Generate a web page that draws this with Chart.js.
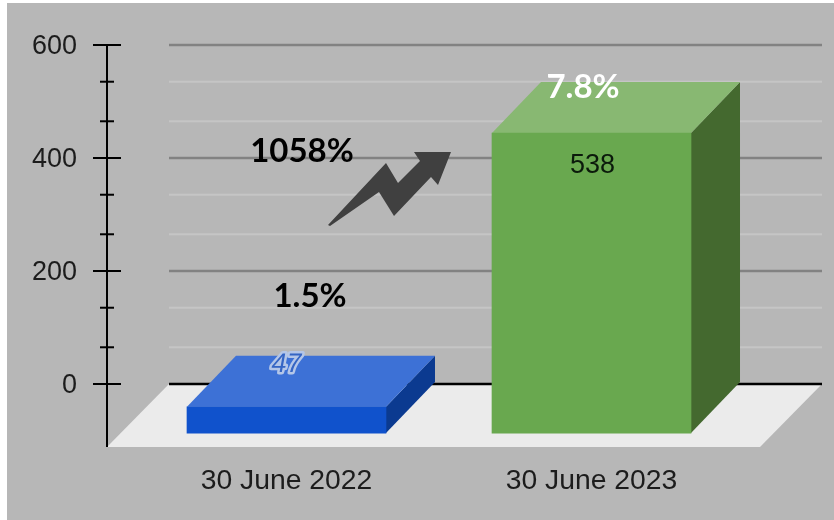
<!DOCTYPE html>
<html>
<head>
<meta charset="utf-8">
<style>
  html, body { margin: 0; padding: 0; background: #fff; }
  #wrap { width: 834px; height: 520px; }
</style>
<script src="https://cdn.jsdelivr.net/npm/chart.js@4/dist/chart.umd.min.js"></script>
</head>
<body>
<div id="wrap"><canvas id="growthChart" width="834" height="520"></canvas></div>
<script>
const categories = ['30 June 2022', '30 June 2023'];
const values = [47, 538];
const shares = ['1.5%', '7.8%'];
const growthLabel = '1058%';
const majorTicks = [0, 200, 400, 600];
const minorTicks = [65, 135, 265, 335, 465, 535];

const frontColors = ['#1052cc', '#69a84f'];
const topColors = ['#3d71d6', '#88b872'];
const sideColors = ['#0b3a90', '#44692f'];

const depthX = 49;
const depthY = 51;
const floorSkew = 62;

const sans = '"Liberation Sans", Arial, sans-serif';
const boldFont = 'bold 33px Lato, "Open Sans", sans-serif';

function polygon(ctx, pts, color) {
  ctx.fillStyle = color;
  ctx.beginPath();
  pts.forEach((p, i) => i ? ctx.lineTo(p[0], p[1]) : ctx.moveTo(p[0], p[1]));
  ctx.closePath();
  ctx.fill();
}

function hLine(ctx, x1, x2, y, color, width) {
  ctx.strokeStyle = color;
  ctx.lineWidth = width;
  ctx.beginPath();
  ctx.moveTo(x1, y);
  ctx.lineTo(x2, y);
  ctx.stroke();
}

// back wall, floor, axis with its ticks, and the depth faces of the bars
const wallPlugin = {
  id: 'wall',
  beforeDraw(chart) {
    const { ctx, width, height } = chart;
    ctx.fillStyle = '#b7b7b7';
    ctx.fillRect(7, 3, width - 7, height - 3);
    // y labels sit a little under their ticks in the original
    chart.scales.y.getLabelItems().forEach(item => { item.options.translation[1] += 2; });
  },
  beforeDatasetsDraw(chart) {
    const { ctx, chartArea: area, scales } = chart;
    const y = scales.y;
    const wallLeft = area.left + floorSkew;
    const y0 = y.getPixelForValue(0);
    ctx.save();
    minorTicks.forEach(v => hLine(ctx, wallLeft, area.right, y.getPixelForValue(v), '#c5c5c5', 2));
    majorTicks.filter(v => v > 0).forEach(v => hLine(ctx, wallLeft, area.right, y.getPixelForValue(v), '#828282', 2.5));

    polygon(ctx, [
      [area.left, area.bottom],
      [wallLeft, y0],
      [area.right, y0],
      [area.right - floorSkew, area.bottom]
    ], '#ebebeb');
    hLine(ctx, wallLeft, area.right, y0, '#000', 2.5);

    ctx.strokeStyle = '#000';
    ctx.lineWidth = 2;
    ctx.beginPath();
    ctx.moveTo(area.left, y.getPixelForValue(600) - 1);
    ctx.lineTo(area.left, area.bottom);
    ctx.stroke();
    majorTicks.forEach(v => hLine(ctx, area.left - 14, area.left + 14, y.getPixelForValue(v), '#000', 2));
    minorTicks.forEach(v => hLine(ctx, area.left - 7, area.left + 7, y.getPixelForValue(v), '#000', 2));

    const meta = chart.getDatasetMeta(0);
    meta.data.forEach((bar, i) => {
      const l = bar.x - bar.width / 2;
      const r = bar.x + bar.width / 2;
      polygon(ctx, [[r, bar.y], [r + depthX, bar.y - depthY], [r + depthX, bar.base - depthY], [r, bar.base]], sideColors[i]);
      polygon(ctx, [[l, bar.y], [l + depthX, bar.y - depthY], [r + depthX, bar.y - depthY], [r, bar.y]], topColors[i]);
    });
    ctx.restore();
  },
  afterDatasetsDraw(chart) {
    const { ctx } = chart;
    const meta = chart.getDatasetMeta(0);
    const [small, big] = meta.data;
    ctx.save();
    ctx.textAlign = 'center';
    ctx.textBaseline = 'middle';

    // small bar label sits on the top face, outlined and slanted
    ctx.save();
    ctx.translate(small.x, small.y - 42);
    ctx.transform(1, 0, -0.18, 1, 0, 0);
    ctx.font = '27px ' + sans;
    ctx.lineJoin = 'round';
    ctx.lineWidth = 5;
    ctx.strokeStyle = '#b4c6e8';
    ctx.strokeText(String(values[0]), 0, 0);
    ctx.fillStyle = '#3565c4';
    ctx.fillText(String(values[0]), 0, 0);
    ctx.restore();

    ctx.font = '27px ' + sans;
    ctx.fillStyle = '#0b1a0b';
    ctx.fillText(String(values[1]), big.x + 1, big.y + 32);

    ctx.font = boldFont;
    ctx.fillStyle = '#000';
    ctx.fillText(growthLabel, 302, 151.5);
    ctx.fillText(shares[0], 310, 296.5);
    ctx.fillStyle = '#fff';
    ctx.fillText(shares[1], 583, 87.5);

    polygon(ctx, [
      [328, 225], [386, 163], [398, 183], [420, 161], [414, 152],
      [451, 152], [438, 185], [431, 177], [394, 216], [379, 192], [330, 226]
    ], '#404040');
    ctx.restore();
  }
};

new Chart(document.getElementById('growthChart').getContext('2d'), {
  type: 'bar',
  data: {
    datasets: [{
      data: categories.map((c, i) => ({ x: i, y: values[i] })),
      backgroundColor: frontColors,
      barThickness: 199,
      xAxisID: 'x',
      yAxisID: 'yFront'
    }]
  },
  options: {
    responsive: false,
    animation: false,
    events: [],
    layout: { padding: { top: 45, right: 12, bottom: 0, left: 0 } },
    plugins: { legend: { display: false }, tooltip: { enabled: false } },
    scales: {
      x: {
        type: 'linear',
        offset: false,
        min: -0.5885,
        max: 1.7557,
        grid: { display: false },
        border: { display: false },
        afterBuildTicks: s => { s.ticks = categories.map((c, i) => ({ value: i })); },
        afterFit: s => { s.height = 73; },
        ticks: {
          autoSkip: false,
          maxRotation: 0,
          padding: 9,
          color: '#1c1c1c',
          font: { family: sans, size: 28.3 },
          callback: v => categories[v]
        }
      },
      y: {
        min: -111.5,
        max: 600,
        grid: { display: false },
        border: { display: false },
        afterBuildTicks: s => { s.ticks = majorTicks.map(v => ({ value: v })); },
        afterFit: s => { s.width = 107; },
        ticks: {
          padding: 22,
          color: '#1c1c1c',
          font: { family: sans, size: 27 }
        }
      },
      // the bar fronts stand forward of the wall, so they get their own hidden scale
      yFront: {
        display: false,
        min: -25,
        max: 696
      }
    }
  },
  plugins: [wallPlugin]
});
</script>
</body>
</html>
